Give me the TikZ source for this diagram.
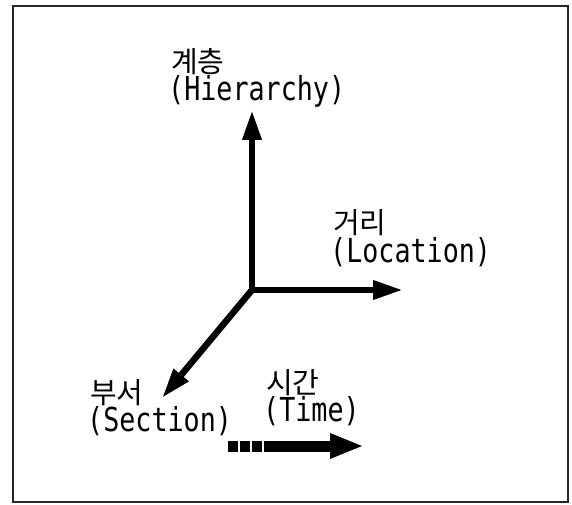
\documentclass[tikz,border=0pt]{standalone}
\usepackage{fontspec}
\newfontfamily\kofont{Noto Sans CJK KR}
\newfontfamily\latfont{DejaVu Sans Mono}
\usetikzlibrary{arrows.meta}
\tikzset{
  kolabel/.style={anchor=base west, inner sep=0pt, font=\kofont\fontsize{29pt}{29pt}\selectfont},
  latlabel/.style={anchor=base west, inner sep=0pt, font=\latfont\fontsize{33pt}{33pt}\selectfont, xscale=0.81, transform shape},
  axis/.style={line width=6.5pt, -{Triangle[length=30pt,width=18pt]}},
  timeline/.style={line width=11pt},
  timedash/.style={line width=11pt, dash pattern=on 10pt off 2pt},
  frame/.style={line width=1.3pt, draw=black!85}
}
\begin{document}
\begin{tikzpicture}[x=1pt,y=-1pt]
\useasboundingbox (0,0) rectangle (572,505);
\draw[frame] (13,6) rectangle (568,502);
% axes
\coordinate (O) at (252,290);
\coordinate (H) at (252,110);
\coordinate (L) at (403,290);
\coordinate (S) at (162,398);
\draw[axis] (O) -- (H);
\draw[axis] (O) -- (L);
\draw[axis] (O) -- (S);
% time arrow
\coordinate (T1) at (228,446);
\coordinate (T2) at (264,446);
\coordinate (T3) at (364,446);
\draw[timedash] (T1) -- (T2);
\draw[timeline, -{Triangle[length=34pt,width=23pt]}] (T2) -- (T3);
% labels
\node[kolabel] (hk) at (171,73) {계층};
\node[latlabel] (hl) at (168,101) {(Hierarchy)};
\node[kolabel] (lk) at (333,233) {거리};
\node[latlabel] (ll) at (330,262) {(Location)};
\node[kolabel] (sk) at (90,403) {부서};
\node[latlabel] (sl) at (87,431) {(Section)};
\node[kolabel] (tk) at (266,393) {시간};
\node[latlabel] (tl) at (263,421) {(Time)};
\end{tikzpicture}
\end{document}
